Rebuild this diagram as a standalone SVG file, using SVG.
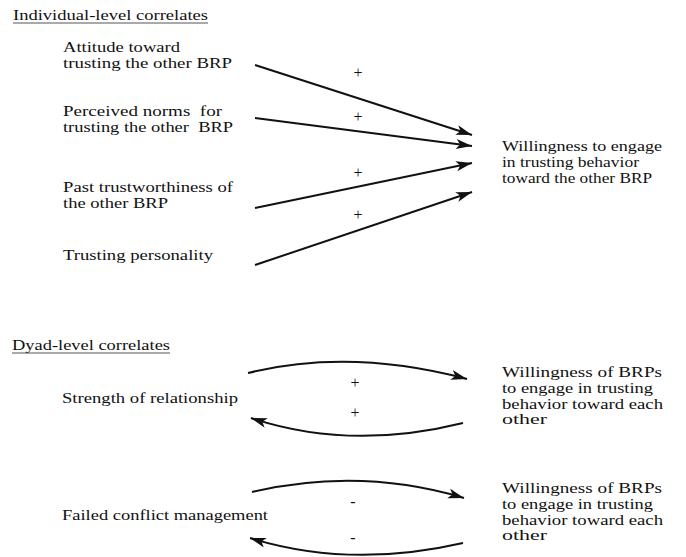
<svg xmlns="http://www.w3.org/2000/svg" width="686" height="557" viewBox="0 0 686 557">
<style>
text{font-family:"Liberation Serif","Times New Roman",serif;fill:#111;}
.t{font-size:15px;}
.h{font-size:15px;}
.s{font-size:16px;text-anchor:middle;}
.c{fill:none;stroke:#111;stroke-width:2;marker-end:url(#ah);}
.u{stroke:#555;stroke-width:1;}
</style>
<defs>
<marker id="ah" markerUnits="userSpaceOnUse" markerWidth="18" markerHeight="12" refX="16" refY="5" orient="auto">
<path d="M0,0 L16,5 L0,10 L4,5 Z" fill="#111"/>
</marker>
</defs>
<rect width="686" height="557" fill="#fff"/>
<g id="heading-individual">
<text class="h" x="13" y="20" textLength="195" lengthAdjust="spacingAndGlyphs">Individual-level correlates</text>
<line class="u" x1="13" y1="23" x2="208" y2="23"/>
</g>
<g id="attitude">
<text class="t" x="63" y="52" textLength="117" lengthAdjust="spacingAndGlyphs">Attitude toward</text>
<text class="t" x="63" y="68" textLength="169" lengthAdjust="spacingAndGlyphs">trusting the other BRP</text>
</g>
<g id="norms">
<text class="t" x="63" y="116" textLength="159" lengthAdjust="spacingAndGlyphs" xml:space="preserve">Perceived norms  for</text>
<text class="t" x="63" y="132" textLength="170" lengthAdjust="spacingAndGlyphs" xml:space="preserve">trusting the other  BRP</text>
</g>
<g id="past">
<text class="t" x="63" y="192" textLength="170" lengthAdjust="spacingAndGlyphs">Past trustworthiness of</text>
<text class="t" x="63" y="208" textLength="105" lengthAdjust="spacingAndGlyphs">the other BRP</text>
</g>
<g id="personality">
<text class="t" x="63" y="260" textLength="150" lengthAdjust="spacingAndGlyphs">Trusting personality</text>
</g>
<g id="willingness">
<text class="t" x="502" y="151" textLength="160" lengthAdjust="spacingAndGlyphs">Willingness to engage</text>
<text class="t" x="502" y="167" textLength="137" lengthAdjust="spacingAndGlyphs">in trusting behavior</text>
<text class="t" x="502" y="183" textLength="150" lengthAdjust="spacingAndGlyphs">toward the other BRP</text>
</g>
<g id="heading-dyad">
<text class="h" x="12" y="350" textLength="158" lengthAdjust="spacingAndGlyphs">Dyad-level correlates</text>
<line class="u" x1="12" y1="353" x2="170" y2="353"/>
</g>
<g id="strength">
<text class="t" x="62" y="403" textLength="176" lengthAdjust="spacingAndGlyphs">Strength of relationship</text>
</g>
<g id="willingness-each-1">
<text class="t" x="502" y="377" textLength="160" lengthAdjust="spacingAndGlyphs">Willingness of BRPs</text>
<text class="t" x="502" y="393" textLength="151" lengthAdjust="spacingAndGlyphs">to engage in trusting</text>
<text class="t" x="502" y="409" textLength="161" lengthAdjust="spacingAndGlyphs">behavior toward each</text>
<text class="t" x="502" y="424" textLength="45" lengthAdjust="spacingAndGlyphs">other</text>
</g>
<g id="conflict">
<text class="t" x="62" y="520" textLength="206" lengthAdjust="spacingAndGlyphs">Failed conflict management</text>
</g>
<g id="willingness-each-2">
<text class="t" x="502" y="493" textLength="160" lengthAdjust="spacingAndGlyphs">Willingness of BRPs</text>
<text class="t" x="502" y="509" textLength="151" lengthAdjust="spacingAndGlyphs">to engage in trusting</text>
<text class="t" x="502" y="525" textLength="161" lengthAdjust="spacingAndGlyphs">behavior toward each</text>
<text class="t" x="502" y="540" textLength="45" lengthAdjust="spacingAndGlyphs">other</text>
</g>
<g id="connectors">
<path class="c" d="M255,65 L472,135"/>
<path class="c" d="M255,118 L472,146"/>
<path class="c" d="M255,208 L472,163"/>
<path class="c" d="M255,265 L472,192"/>
<path class="c" d="M248,373 Q350,348 467,379"/>
<path class="c" d="M463,423 Q350,451 251,418"/>
<path class="c" d="M252,492 Q360,467 464,498"/>
<path class="c" d="M463,543 Q350,569 250,538"/>
<text class="s" x="358" y="78">+</text>
<text class="s" x="358" y="122">+</text>
<text class="s" x="358" y="178">+</text>
<text class="s" x="358" y="220">+</text>
<text class="s" x="355" y="388">+</text>
<text class="s" x="355" y="418">+</text>
<text class="s" x="353" y="507">-</text>
<text class="s" x="353" y="543">-</text>
</g>
</svg>
